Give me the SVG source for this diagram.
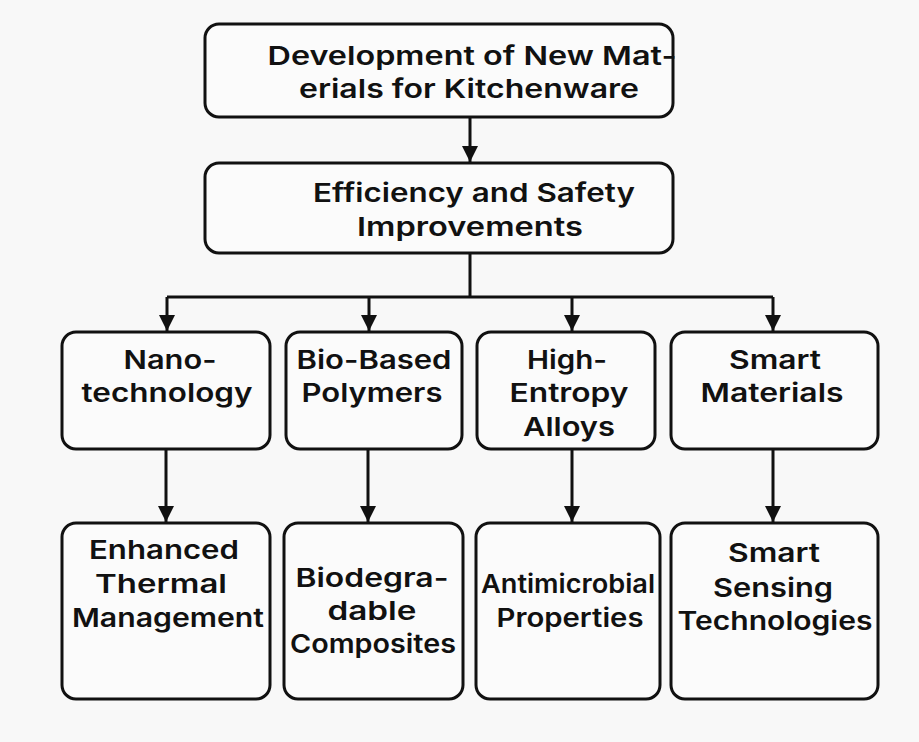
<svg xmlns="http://www.w3.org/2000/svg" width="919" height="742" viewBox="0 0 919 742">
  <style>
    .box { fill: #fbfbfb; stroke: #111; stroke-width: 3; }
    .lbl { font-family: Inter, "Open Sans", "Liberation Sans", sans-serif; font-weight: 600; font-size: 26px; fill: #111; text-anchor: middle; }
    .wire { fill: none; stroke: #111; stroke-width: 3; }
  </style>
  <defs>
    <marker id="head" markerUnits="userSpaceOnUse" viewBox="0 0 16 16" refX="16" refY="8" markerWidth="16" markerHeight="16" orient="auto">
      <path d="M0,0 L16,8 L0,16 z" fill="#111"/>
    </marker>
  </defs>
  <rect width="919" height="742" fill="#f8f8f8"/>

  <g id="connectors">
    <path class="wire" d="M470,117 V162" marker-end="url(#head)"/>
    <path class="wire" d="M470,253 V297"/>
    <path class="wire" d="M167,297 H773"/>
    <path class="wire" d="M167,297 V331" marker-end="url(#head)"/>
    <path class="wire" d="M369,297 V331" marker-end="url(#head)"/>
    <path class="wire" d="M572,297 V331" marker-end="url(#head)"/>
    <path class="wire" d="M773,297 V331" marker-end="url(#head)"/>
    <path class="wire" d="M166,449 V522" marker-end="url(#head)"/>
    <path class="wire" d="M368,449 V522" marker-end="url(#head)"/>
    <path class="wire" d="M572,449 V522" marker-end="url(#head)"/>
    <path class="wire" d="M773,449 V522" marker-end="url(#head)"/>
  </g>

  <g id="root">
    <rect class="box" x="205" y="24" width="468" height="93" rx="14"/>
    <text class="lbl" x="472" y="65" textLength="409" lengthAdjust="spacingAndGlyphs">Development of New Mat-</text>
    <text class="lbl" x="469" y="98" textLength="340" lengthAdjust="spacingAndGlyphs">erials for Kitchenware</text>
  </g>

  <g id="efficiency">
    <rect class="box" x="205" y="163" width="468" height="90" rx="14"/>
    <text class="lbl" x="474" y="202" textLength="322" lengthAdjust="spacingAndGlyphs">Efficiency and Safety</text>
    <text class="lbl" x="470" y="236" textLength="226" lengthAdjust="spacingAndGlyphs">Improvements</text>
  </g>

  <g id="nano">
    <rect class="box" x="62" y="332" width="208" height="117" rx="14"/>
    <text class="lbl" x="170" y="369" textLength="93" lengthAdjust="spacingAndGlyphs">Nano-</text>
    <text class="lbl" x="167" y="402" textLength="171" lengthAdjust="spacingAndGlyphs">technology</text>
  </g>

  <g id="biopolymers">
    <rect class="box" x="286" y="332" width="176" height="117" rx="14"/>
    <text class="lbl" x="374" y="369" textLength="155" lengthAdjust="spacingAndGlyphs">Bio-Based</text>
    <text class="lbl" x="372" y="402" textLength="141" lengthAdjust="spacingAndGlyphs">Polymers</text>
  </g>

  <g id="alloys">
    <rect class="box" x="477" y="332" width="178" height="117" rx="14"/>
    <text class="lbl" x="567" y="369" textLength="80" lengthAdjust="spacingAndGlyphs">High-</text>
    <text class="lbl" x="569" y="402" textLength="119" lengthAdjust="spacingAndGlyphs">Entropy</text>
    <text class="lbl" x="569" y="436" textLength="92" lengthAdjust="spacingAndGlyphs">Alloys</text>
  </g>

  <g id="smart">
    <rect class="box" x="671" y="332" width="207" height="117" rx="14"/>
    <text class="lbl" x="775" y="369" textLength="92" lengthAdjust="spacingAndGlyphs">Smart</text>
    <text class="lbl" x="772" y="402" textLength="143" lengthAdjust="spacingAndGlyphs">Materials</text>
  </g>

  <g id="thermal">
    <rect class="box" x="62" y="523" width="208" height="176" rx="14"/>
    <text class="lbl" x="164" y="559" textLength="150" lengthAdjust="spacingAndGlyphs">Enhanced</text>
    <text class="lbl" x="161" y="593" textLength="132" lengthAdjust="spacingAndGlyphs">Thermal</text>
    <text class="lbl" x="168" y="627" textLength="192" lengthAdjust="spacingAndGlyphs">Management</text>
  </g>

  <g id="composites">
    <rect class="box" x="284" y="523" width="179" height="176" rx="14"/>
    <text class="lbl" x="372" y="587" textLength="153" lengthAdjust="spacingAndGlyphs">Biodegra-</text>
    <text class="lbl" x="372" y="620" textLength="89" lengthAdjust="spacingAndGlyphs">dable</text>
    <text class="lbl" x="373" y="653" textLength="166" lengthAdjust="spacingAndGlyphs">Composites</text>
  </g>

  <g id="antimicrobial">
    <rect class="box" x="476" y="523" width="184" height="176" rx="14"/>
    <text class="lbl" x="568" y="593" textLength="174" lengthAdjust="spacingAndGlyphs">Antimicrobial</text>
    <text class="lbl" x="570" y="627" textLength="147" lengthAdjust="spacingAndGlyphs">Properties</text>
  </g>

  <g id="sensing">
    <rect class="box" x="671" y="523" width="207" height="176" rx="14"/>
    <text class="lbl" x="774" y="562" textLength="92" lengthAdjust="spacingAndGlyphs">Smart</text>
    <text class="lbl" x="773" y="597" textLength="120" lengthAdjust="spacingAndGlyphs">Sensing</text>
    <text class="lbl" x="775" y="630" textLength="195" lengthAdjust="spacingAndGlyphs">Technologies</text>
  </g>
</svg>
